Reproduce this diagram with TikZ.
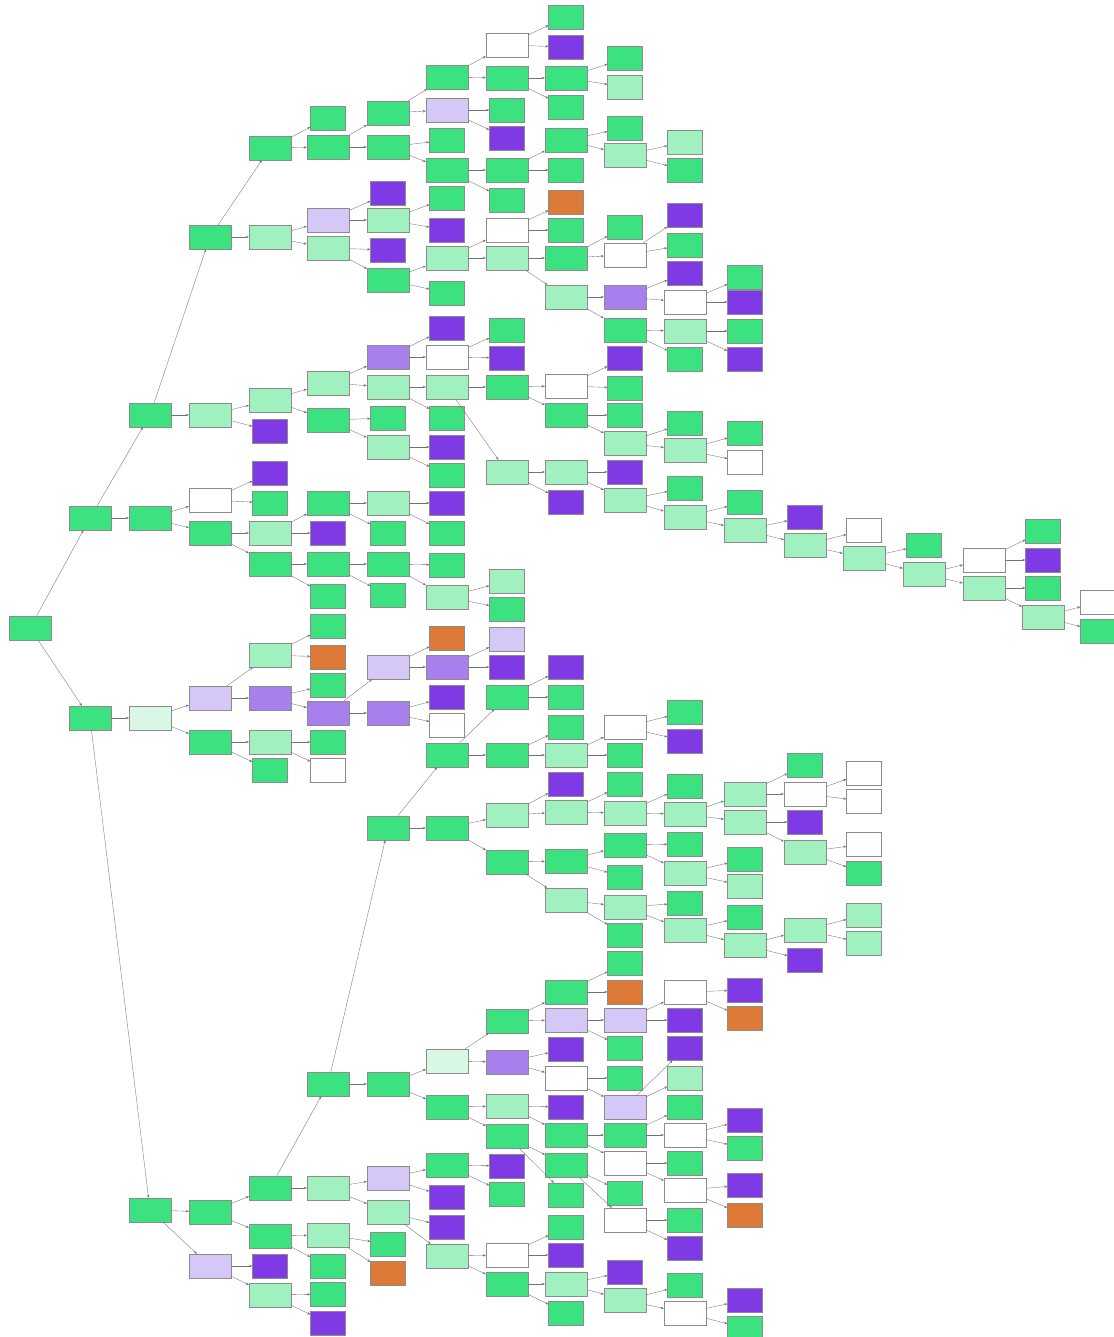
\documentclass[tikz,border=0pt]{standalone}
\usepackage{tikz}
\usetikzlibrary{arrows.meta}
\definecolor{grn}{RGB}{61,226,128}
\definecolor{lgrn}{RGB}{160,240,192}
\definecolor{vlgrn}{RGB}{216,248,229}
\definecolor{wht}{RGB}{255,255,255}
\definecolor{lpur}{RGB}{214,200,246}
\definecolor{mpur}{RGB}{168,128,238}
\definecolor{dpur}{RGB}{128,58,229}
\definecolor{orng}{RGB}{222,122,56}
\tikzset{
  box/.style={draw=black!45, line width=0.4pt, minimum height=24pt, inner sep=0pt},
  sbox/.style={box, minimum width=42pt},
  lbox/.style={box, minimum width=35pt},
  link/.style={draw=black!55, line width=0.35pt, -{Stealth[length=3pt,width=2.4pt]}}
}
\begin{document}
\begin{tikzpicture}[x=1pt, y=-1pt]
   \path[fill=white, use as bounding box] (0,0) rectangle (1113,1337);

   % 节点（列/纵坐标/颜色/类型）
   \foreach \c/\y/\f/\k in {
     0/628/grn/sbox,
     1/518/grn/sbox, 1/718/grn/sbox,
     2/415/grn/sbox, 2/518/grn/sbox, 2/718/vlgrn/sbox, 2/1210/grn/sbox,
     3/237/grn/sbox, 3/415/lgrn/sbox, 3/500/wht/sbox, 3/533/grn/sbox, 3/698/lpur/sbox, 3/742/grn/sbox, 3/1212/grn/sbox, 3/1266/lpur/sbox,
     4/148/grn/sbox, 4/237/lgrn/sbox, 4/400/lgrn/sbox, 4/431/dpur/lbox, 4/473/dpur/lbox, 4/503/grn/lbox, 4/533/lgrn/sbox, 4/564/grn/sbox, 4/655/lgrn/sbox, 4/698/mpur/sbox, 4/742/lgrn/sbox, 4/770/grn/lbox, 4/1188/grn/sbox, 4/1236/grn/sbox, 4/1266/dpur/lbox, 4/1295/lgrn/sbox,
     5/118/grn/lbox, 5/147/grn/sbox, 5/220/lpur/sbox, 5/248/lgrn/sbox, 5/383/lgrn/sbox, 5/420/grn/sbox, 5/503/grn/sbox, 5/533/dpur/lbox, 5/564/grn/sbox, 5/596/grn/lbox, 5/626/grn/lbox, 5/657/orng/lbox, 5/685/grn/lbox, 5/713/mpur/sbox, 5/742/grn/lbox, 5/770/wht/lbox, 5/1084/grn/sbox, 5/1188/lgrn/sbox, 5/1235/lgrn/sbox, 5/1266/grn/lbox, 5/1294/grn/lbox, 5/1323/dpur/lbox,
     6/113/grn/sbox, 6/147/grn/sbox, 6/193/dpur/lbox, 6/220/lgrn/sbox, 6/250/dpur/lbox, 6/280/grn/sbox, 6/357/mpur/sbox, 6/387/lgrn/sbox, 6/418/grn/lbox, 6/447/lgrn/sbox, 6/503/lgrn/sbox, 6/533/grn/lbox, 6/564/grn/sbox, 6/595/grn/lbox, 6/667/lpur/sbox, 6/713/mpur/sbox, 6/828/grn/sbox, 6/1084/grn/sbox, 6/1178/lpur/sbox, 6/1212/lgrn/sbox, 6/1244/grn/lbox, 6/1273/orng/lbox,
     7/77/grn/sbox, 7/110/lpur/sbox, 7/140/grn/lbox, 7/170/grn/sbox, 7/198/grn/lbox, 7/230/dpur/lbox, 7/258/lgrn/sbox, 7/293/grn/lbox, 7/328/dpur/lbox, 7/357/wht/sbox, 7/387/lgrn/sbox, 7/418/grn/lbox, 7/447/dpur/lbox, 7/475/grn/lbox, 7/503/dpur/lbox, 7/533/grn/lbox, 7/565/grn/lbox, 7/597/lgrn/sbox, 7/638/orng/lbox, 7/667/mpur/sbox, 7/697/dpur/lbox, 7/725/wht/lbox, 7/755/grn/sbox, 7/828/grn/sbox, 7/1061/vlgrn/sbox, 7/1107/grn/sbox, 7/1165/grn/sbox, 7/1197/dpur/lbox, 7/1227/dpur/lbox, 7/1256/lgrn/sbox,
     8/45/wht/sbox, 8/78/grn/sbox, 8/110/grn/lbox, 8/138/dpur/lbox, 8/170/grn/sbox, 8/200/grn/lbox, 8/230/wht/sbox, 8/258/lgrn/sbox, 8/330/grn/lbox, 8/358/dpur/lbox, 8/387/grn/sbox, 8/472/lgrn/sbox, 8/581/lgrn/lbox, 8/609/grn/lbox, 8/639/lpur/lbox, 8/667/dpur/lbox, 8/697/grn/sbox, 8/755/grn/sbox, 8/815/lgrn/sbox, 8/862/grn/sbox, 8/1021/grn/sbox, 8/1062/mpur/sbox, 8/1106/lgrn/sbox, 8/1136/grn/sbox, 8/1166/dpur/lbox, 8/1194/grn/lbox, 8/1255/wht/sbox, 8/1284/grn/sbox,
     9/17/grn/lbox, 9/47/dpur/lbox, 9/78/grn/sbox, 9/107/grn/lbox, 9/140/grn/sbox, 9/170/grn/lbox, 9/202/orng/lbox, 9/230/grn/lbox, 9/258/grn/sbox, 9/297/lgrn/sbox, 9/386/wht/sbox, 9/415/grn/sbox, 9/472/lgrn/sbox, 9/502/dpur/lbox, 9/667/dpur/lbox, 9/697/grn/lbox, 9/727/grn/lbox, 9/755/lgrn/sbox, 9/784/dpur/lbox, 9/812/lgrn/sbox, 9/861/grn/sbox, 9/900/lgrn/sbox, 9/992/grn/sbox, 9/1020/lpur/sbox, 9/1049/dpur/lbox, 9/1078/wht/sbox, 9/1107/dpur/lbox, 9/1135/grn/sbox, 9/1165/grn/sbox, 9/1195/grn/lbox, 9/1227/grn/lbox, 9/1255/dpur/lbox, 9/1284/lgrn/sbox, 9/1313/grn/lbox,
     10/58/grn/lbox, 10/87/lgrn/lbox, 10/128/grn/lbox, 10/155/lgrn/sbox, 10/227/grn/lbox, 10/255/wht/sbox, 10/297/mpur/sbox, 10/330/grn/sbox, 10/358/dpur/lbox, 10/388/grn/lbox, 10/415/grn/lbox, 10/443/lgrn/sbox, 10/472/dpur/lbox, 10/500/lgrn/sbox, 10/727/wht/sbox, 10/755/grn/lbox, 10/784/grn/lbox, 10/813/lgrn/sbox, 10/845/grn/sbox, 10/877/grn/lbox, 10/907/lgrn/sbox, 10/935/grn/lbox, 10/963/grn/lbox, 10/992/orng/lbox, 10/1020/lpur/sbox, 10/1048/grn/lbox, 10/1078/grn/lbox, 10/1107/lpur/sbox, 10/1135/grn/sbox, 10/1163/wht/sbox, 10/1193/grn/lbox, 10/1220/wht/sbox, 10/1272/dpur/lbox, 10/1300/lgrn/sbox,
     11/142/lgrn/lbox, 11/170/grn/lbox, 11/215/dpur/lbox, 11/245/grn/lbox, 11/273/dpur/lbox, 11/302/wht/sbox, 11/331/lgrn/sbox, 11/359/grn/lbox, 11/423/grn/lbox, 11/450/lgrn/sbox, 11/488/grn/lbox, 11/517/lgrn/sbox, 11/712/grn/lbox, 11/741/dpur/lbox, 11/786/grn/lbox, 11/814/lgrn/sbox, 11/844/grn/lbox, 11/873/lgrn/sbox, 11/903/grn/lbox, 11/930/lgrn/sbox, 11/992/wht/sbox, 11/1020/dpur/lbox, 11/1048/dpur/lbox, 11/1078/lgrn/lbox, 11/1107/grn/lbox, 11/1135/wht/sbox, 11/1163/grn/lbox, 11/1190/wht/sbox, 11/1220/grn/lbox, 11/1248/dpur/lbox, 11/1285/grn/lbox, 11/1313/wht/sbox,
     12/277/grn/lbox, 12/302/dpur/lbox, 12/331/grn/lbox, 12/359/dpur/lbox, 12/433/grn/lbox, 12/462/wht/lbox, 12/502/grn/lbox, 12/530/lgrn/sbox, 12/794/lgrn/sbox, 12/822/lgrn/sbox, 12/859/grn/lbox, 12/886/lgrn/lbox, 12/917/grn/lbox, 12/945/lgrn/sbox, 12/990/dpur/lbox, 12/1018/orng/lbox, 12/1120/dpur/lbox, 12/1148/grn/lbox, 12/1185/dpur/lbox, 12/1215/orng/lbox, 12/1300/dpur/lbox, 12/1328/grn/lbox,
     13/517/dpur/lbox, 13/545/lgrn/sbox, 13/765/grn/lbox, 13/794/wht/sbox, 13/822/dpur/lbox, 13/852/lgrn/sbox, 13/930/lgrn/sbox, 13/960/dpur/lbox,
     14/530/wht/lbox, 14/558/lgrn/sbox, 14/773/wht/lbox, 14/801/wht/lbox, 14/844/wht/lbox, 14/873/grn/lbox, 14/915/lgrn/lbox, 14/943/lgrn/lbox,
     15/545/grn/lbox, 15/574/lgrn/sbox,
     16/560/wht/sbox, 16/588/lgrn/sbox,
     17/531/grn/lbox, 17/560/dpur/lbox, 17/588/grn/lbox, 17/617/lgrn/sbox,
     18/602/wht/lbox, 18/631/grn/lbox}
   {
     \pgfmathsetmacro{\cx}{{30,90,150,210,270,328,388,447,507,566,625,685,745,805,864,924,984,1043,1098}[\c]}
     \node[\k, fill=\f] (n\c-\y) at (\cx,\y) {};
   }

   % 边（父/子）
   \foreach \a/\b in {
     0-628/1-518, 0-628/1-718,
     1-518/2-415, 1-518/2-518, 1-718/2-718, 1-718/2-1210,
     2-415/3-237, 2-415/3-415, 2-518/3-500, 2-518/3-533, 2-718/3-698, 2-718/3-742, 2-1210/3-1212, 2-1210/3-1266,
     3-237/4-148, 3-237/4-237, 3-415/4-400, 3-415/4-431, 3-500/4-473, 3-500/4-503, 3-533/4-533, 3-533/4-564, 3-698/4-655, 3-698/4-698, 3-742/4-742, 3-742/4-770, 3-1212/4-1188, 3-1212/4-1236, 3-1266/4-1266, 3-1266/4-1295,
     4-148/5-118, 4-148/5-147, 4-237/5-220, 4-237/5-248, 4-400/5-383, 4-400/5-420, 4-533/5-503, 4-533/5-533, 4-564/5-564, 4-564/5-596, 4-655/5-626, 4-655/5-657, 4-698/5-685, 4-698/5-713, 4-742/5-742, 4-742/5-770, 4-1188/5-1084, 4-1188/5-1188, 4-1236/5-1235, 4-1236/5-1266, 4-1295/5-1294, 4-1295/5-1323,
     5-147/6-113, 5-147/6-147, 5-220/6-193, 5-220/6-220, 5-248/6-250, 5-248/6-280, 5-383/6-357, 5-383/6-387, 5-420/6-418, 5-420/6-447, 5-503/6-503, 5-503/6-533, 5-564/6-564, 5-564/6-595, 5-713/6-667, 5-713/6-713, 5-1084/6-828, 5-1084/6-1084, 5-1188/6-1178, 5-1188/6-1212, 5-1235/6-1244, 5-1235/6-1273,
     6-113/7-77, 6-113/7-110, 6-147/7-140, 6-147/7-170, 6-220/7-198, 6-220/7-230, 6-280/7-258, 6-280/7-293, 6-357/7-328, 6-357/7-357, 6-387/7-387, 6-387/7-418, 6-447/7-447, 6-447/7-475, 6-503/7-503, 6-503/7-533, 6-564/7-565, 6-564/7-597, 6-667/7-638, 6-667/7-667, 6-713/7-697, 6-713/7-725, 6-828/7-755, 6-828/7-828, 6-1084/7-1061, 6-1084/7-1107, 6-1178/7-1165, 6-1178/7-1197, 6-1212/7-1227, 6-1212/7-1256,
     7-77/8-45, 7-77/8-78, 7-110/8-110, 7-110/8-138, 7-170/8-170, 7-170/8-200, 7-258/8-230, 7-258/8-258, 7-357/8-330, 7-357/8-358, 7-387/8-387, 7-387/8-472, 7-597/8-581, 7-597/8-609, 7-667/8-639, 7-667/8-667, 7-755/8-697, 7-755/8-755, 7-828/8-815, 7-828/8-862, 7-1061/8-1021, 7-1061/8-1062, 7-1107/8-1106, 7-1107/8-1136, 7-1165/8-1166, 7-1165/8-1194, 7-1256/8-1255, 7-1256/8-1284,
     8-45/9-17, 8-45/9-47, 8-78/9-78, 8-78/9-107, 8-170/9-140, 8-170/9-170, 8-230/9-202, 8-230/9-230, 8-258/9-258, 8-258/9-297, 8-387/9-386, 8-387/9-415, 8-472/9-472, 8-472/9-502, 8-697/9-667, 8-697/9-697, 8-755/9-727, 8-755/9-755, 8-815/9-784, 8-815/9-812, 8-862/9-861, 8-862/9-900, 8-1021/9-992, 8-1021/9-1020, 8-1062/9-1049, 8-1062/9-1078, 8-1106/9-1107, 8-1106/9-1135, 8-1136/9-1165, 8-1136/9-1195, 8-1255/9-1227, 8-1255/9-1255, 8-1284/9-1284, 8-1284/9-1313,
     9-78/10-58, 9-78/10-87, 9-140/10-128, 9-140/10-155, 9-258/10-227, 9-258/10-255, 9-297/10-297, 9-297/10-330, 9-386/10-358, 9-386/10-388, 9-415/10-415, 9-415/10-443, 9-472/10-472, 9-472/10-500, 9-755/10-727, 9-755/10-755, 9-812/10-784, 9-812/10-813, 9-861/10-845, 9-861/10-877, 9-900/10-907, 9-900/10-935, 9-992/10-963, 9-992/10-992, 9-1020/10-1020, 9-1020/10-1048, 9-1078/10-1078, 9-1078/10-1107, 9-1135/10-1135, 9-1135/10-1163, 9-1165/10-1193, 9-1165/10-1220, 9-1284/10-1272, 9-1284/10-1300,
     10-155/11-142, 10-155/11-170, 10-255/11-215, 10-255/11-245, 10-297/11-273, 10-297/11-302, 10-330/11-331, 10-330/11-359, 10-443/11-423, 10-443/11-450, 10-500/11-488, 10-500/11-517, 10-727/11-712, 10-727/11-741, 10-813/11-786, 10-813/11-814, 10-845/11-844, 10-845/11-873, 10-907/11-903, 10-907/11-930, 10-1020/11-992, 10-1020/11-1020, 10-1107/11-1048, 10-1107/11-1078, 10-1135/11-1107, 10-1135/11-1135, 10-1163/11-1163, 10-1163/11-1190, 10-1220/11-1220, 10-1220/11-1248, 10-1300/11-1285, 10-1300/11-1313,
     11-302/12-277, 11-302/12-302, 11-331/12-331, 11-331/12-359, 11-450/12-433, 11-450/12-462, 11-517/12-502, 11-517/12-530, 11-814/12-794, 11-814/12-822, 11-873/12-859, 11-873/12-886, 11-930/12-917, 11-930/12-945, 11-992/12-990, 11-992/12-1018, 11-1135/12-1120, 11-1135/12-1148, 11-1190/12-1185, 11-1190/12-1215, 11-1313/12-1300, 11-1313/12-1328,
     12-530/13-517, 12-530/13-545, 12-794/13-765, 12-794/13-794, 12-822/13-822, 12-822/13-852, 12-945/13-930, 12-945/13-960,
     13-545/14-530, 13-545/14-558, 13-794/14-773, 13-794/14-801, 13-852/14-844, 13-852/14-873, 13-930/14-915, 13-930/14-943,
     14-558/15-545, 14-558/15-574,
     15-574/16-560, 15-574/16-588,
     16-560/17-531, 16-560/17-560, 16-588/17-588, 16-588/17-617,
     17-617/18-602, 17-617/18-631}
     \draw[link] (n\a) -- (n\b);
\end{tikzpicture}
\end{document}
